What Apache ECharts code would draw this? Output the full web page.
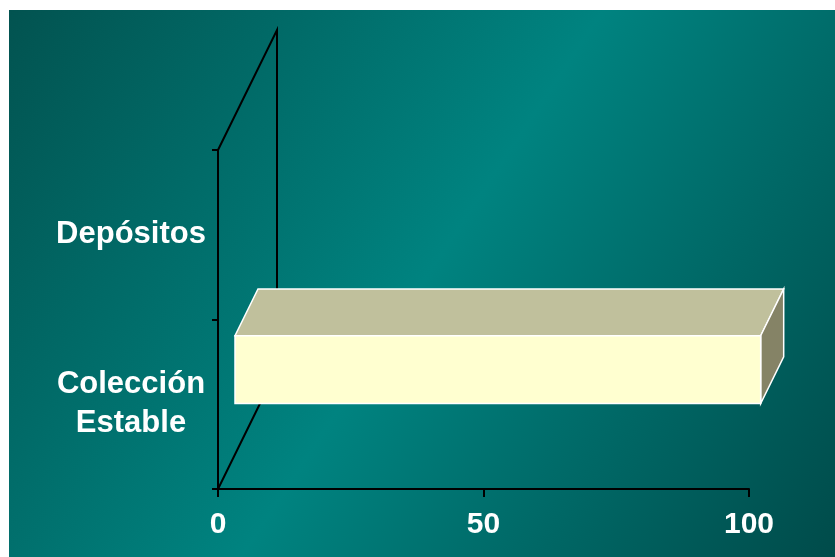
<!DOCTYPE html>
<html>
<head>
<meta charset="utf-8">
<script src="https://cdn.jsdelivr.net/npm/echarts@6/dist/echarts.min.js"></script>
<style>
  html, body { margin: 0; padding: 0; background: #fff; }
  #chart { position: absolute; left: 9px; top: 10px; width: 826px; height: 547px; }
</style>
</head>
<body>
<div id="chart"></div>
<script>
// categories bottom-up, values
const categories = ['Colección\nEstable', 'Depósitos']
const values = [99, 0]
const xTicks = [0, 50, 100]

// 3d look: depth of the wall in px, bar sits between front/back fractions of it
const depth = [59, -120]
const barFront = 0.288
const barBack = 0.678

const chart = echarts.init(document.getElementById('chart'))

function renderFrame(params, api) {
  const cs = params.coordSys
  const bl = [cs.x, cs.y + cs.height]
  const tl = [cs.x, cs.y]
  const style = { stroke: '#000', lineWidth: 2, fill: null }
  return {
    type: 'group',
    children: [
      { type: 'polyline', shape: { points: [tl, [tl[0] + depth[0], tl[1] + depth[1]], [bl[0] + depth[0], bl[1] + depth[1]], bl] }, style: style }
    ]
  }
}

function renderBar(params, api) {
  const v = api.value(0)
  const idx = api.value(1)
  if (!v) return
  const p0 = api.coord([0, idx])
  const p1 = api.coord([v, idx])
  const half = api.size([0, 1])[1] * 0.2
  const fx = depth[0] * barFront, fy = depth[1] * barFront
  const bx = depth[0] * (barBack - barFront), by = depth[1] * (barBack - barFront)
  const L = p0[0] + fx, R = p1[0] + fx
  const T = p0[1] + fy - half, B = p0[1] + fy + half
  const stroke = { stroke: '#fff', lineWidth: 1.5 }
  return {
    type: 'group',
    children: [
      { type: 'polygon', shape: { points: [[L, T], [R, T], [R + bx, T + by], [L + bx, T + by]] }, style: Object.assign({ fill: '#c0c09c' }, stroke) },
      { type: 'polygon', shape: { points: [[R, T], [R + bx, T + by], [R + bx, B + by], [R, B]] }, style: Object.assign({ fill: '#858366' }, stroke) },
      { type: 'rect', shape: { x: L, y: T, width: R - L, height: B - T }, style: Object.assign({ fill: '#ffffd0' }, stroke) }
    ]
  }
}

const labelFont = {
  color: '#fff',
  fontWeight: 'bold',
  fontSize: 30,
  fontFamily: 'Liberation Sans, Arial, sans-serif'
}

const option = {
  backgroundColor: new echarts.graphic.LinearGradient(0, 0, 1, 1, [
    { offset: 0, color: '#025350' },
    { offset: 0.5, color: '#008380' },
    { offset: 1, color: '#004b4a' }
  ]),
  animation: false,
  grid: { left: 209, top: 140, right: 86, bottom: 68 },
  xAxis: {
    type: 'value',
    min: xTicks[0],
    max: xTicks[xTicks.length - 1],
    interval: xTicks[1] - xTicks[0],
    splitLine: { show: false },
    axisLine: { show: true, lineStyle: { color: '#000', width: 2 } },
    axisTick: { show: true, length: 8, lineStyle: { color: '#000', width: 2 } },
    axisLabel: Object.assign({ margin: 21 }, labelFont)
  },
  yAxis: {
    type: 'category',
    data: categories,
    axisLine: { show: true, lineStyle: { color: '#000', width: 2 } },
    axisTick: { show: true, length: 6, lineStyle: { color: '#000', width: 2 } },
    axisLabel: Object.assign({ margin: 87, align: 'center', lineHeight: 39, padding: [6, 0, 0, 0] }, labelFont, { fontSize: 31 })
  },
  series: [
    {
      type: 'custom',
      name: 'frame',
      renderItem: renderFrame,
      data: [[0, 0]],
      z: 1,
      silent: true
    },
    {
      type: 'custom',
      name: 'valores',
      renderItem: renderBar,
      encode: { x: 0, y: 1 },
      data: values.map((v, i) => [v, i]),
      z: 3
    }
  ]
}
chart.setOption(option)
</script>
</body>
</html>
